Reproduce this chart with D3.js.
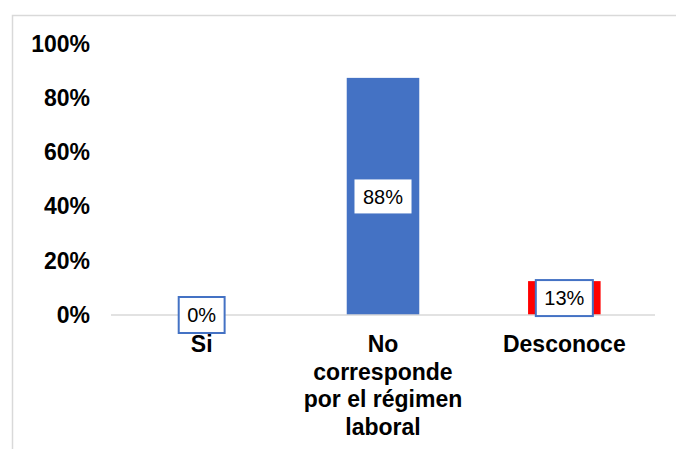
<!DOCTYPE html>
<html>
  <head>
    <meta charset="utf-8">
    <script src="https://d3js.org/d3.v7.min.js"></script>
    <style>
      body { margin: 0; background: #fff; }
      text { font-family: "Liberation Sans", Arial, sans-serif; }
      .tick-label, .cat-label { font-size: 23px; font-weight: bold; fill: #000; }
      .val-label { font-size: 20px; fill: #000; }
    </style>
  </head>
  <body>
    <div id="chart"></div>
    <script>
      // data
      const categories = ["Si", "No\ncorresponde\npor el régimen\nlaboral", "Desconoce"];
      const values = [0, 0.875, 0.125];
      const valueLabels = ["0%", "88%", "13%"];
      const yTicks = [0, 0.2, 0.4, 0.6, 0.8, 1];

      const W = 676, H = 449;
      const barColors = ["#4472c4", "#4472c4", "#ff0000"];
      const boxStroke = ["#4472c4", "none", "#4472c4"];

      const svg = d3.select("#chart").append("svg")
        .attr("width", W)
        .attr("height", H);

      // chart frame (runs off the right and bottom edge)
      svg.append("rect")
        .attr("x", 12.5).attr("y", 15.5)
        .attr("width", W + 20).attr("height", H + 20)
        .attr("fill", "none")
        .attr("stroke", "#d9d9d9")
        .attr("stroke-width", 1.5);

      const x = d3.scaleBand()
        .domain(categories)
        .range([111, 655])
        .paddingInner(0.6)
        .paddingOuter(0.3);
      const y = d3.scaleLinear().domain([0, 1]).range([315, 44]);

      // y axis labels
      const yAxis = svg.append("g")
        .attr("transform", "translate(111,0)")
        .call(d3.axisLeft(y).tickValues(yTicks).tickFormat(d3.format(".0%")).tickSize(0).tickPadding(21));
      yAxis.select(".domain").remove();
      yAxis.selectAll("text").attr("class", "tick-label").attr("font-family", null).attr("font-size", null);

      // bars
      svg.selectAll("rect.bar")
        .data(values)
        .enter()
        .append("rect")
        .attr("class", "bar")
        .attr("x", (d, i) => x(categories[i]))
        .attr("y", d => y(d))
        .attr("width", x.bandwidth())
        .attr("height", d => y(0) - y(d))
        .attr("fill", (d, i) => barColors[i]);

      // baseline
      svg.append("line")
        .attr("x1", 111).attr("x2", 655)
        .attr("y1", y(0)).attr("y2", y(0))
        .attr("stroke", "#d9d9d9")
        .attr("stroke-width", 1.5);

      // category labels
      categories.forEach((c, i) => {
        const t = svg.append("text")
          .attr("class", "cat-label")
          .attr("text-anchor", "middle")
          .attr("x", x(c) + x.bandwidth() / 2)
          .attr("y", 352);
        c.split("\n").forEach((line, j) => {
          t.append("tspan")
            .attr("x", x(c) + x.bandwidth() / 2)
            .attr("dy", j === 0 ? 0 : 27.5)
            .text(line);
        });
      });

      // value labels in boxes at bar middles
      values.forEach((v, i) => {
        const cx = x(categories[i]) + x.bandwidth() / 2;
        const cy = (y(v) + y(0)) / 2;
        const g = svg.append("g");
        const box = g.append("rect");
        const t = g.append("text")
          .attr("class", "val-label")
          .attr("text-anchor", "middle")
          .attr("x", cx)
          .attr("y", cy)
          .attr("dy", "0.36em")
          .text(valueLabels[i]);
        const w = t.node().getComputedTextLength() + 17;
        const h = boxStroke[i] === "none" ? 34 : 36;
        box.attr("x", cx - w / 2)
          .attr("y", cy - h / 2)
          .attr("width", w)
          .attr("height", h)
          .attr("fill", "#fff")
          .attr("stroke", boxStroke[i])
          .attr("stroke-width", 2);
      });
    </script>
  </body>
</html>
